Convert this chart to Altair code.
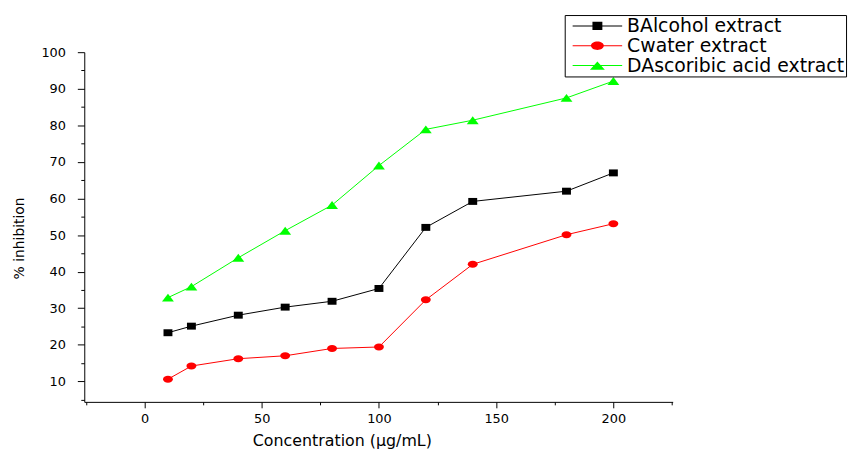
import altair as alt
import pandas as pd

# ---- data ----
conc = [10, 20, 40, 60, 80, 100, 120, 140, 180, 200]
alcohol = [23.3, 25.1, 28.1, 30.3, 31.9, 35.4, 52.1, 59.2, 62.0, 67.0]
water = [10.6, 14.2, 16.2, 17.0, 19.0, 19.4, 32.3, 42.0, 50.1, 53.1]
ascorbic = [32.9, 35.9, 43.8, 51.2, 58.2, 69.0, 78.9, 81.4, 87.5, 92.1]

series_names = ["BAlcohol extract", "Cwater extract", "DAscoribic acid extract"]
series_colors = ["#000000", "#FF0000", "#00FF00"]

x_ticks = [-25, 0, 25, 50, 75, 100, 125, 150, 175, 200, 225]
y_ticks = [5, 10, 15, 20, 25, 30, 35, 40, 45, 50, 55, 60, 65, 70, 75, 80, 85, 90, 95, 100]

rows = []
for name, vals in zip(series_names, [alcohol, water, ascorbic]):
    for c, v in zip(conc, vals):
        rows.append({"conc": c, "inh": v, "series": name})
df = pd.DataFrame(rows)

# marker shapes (plot) - slightly flattened like the reference
plot_shapes = [
    "M-0.9,-0.7H0.9V0.7H-0.9Z",
    "M-1,0A1,0.7 0 1,1 1,0A1,0.7 0 1,1 -1,0Z",
    "M0,-0.8L1.2,0.8L-1.2,0.8Z",
]
# legend shapes: line + marker
seg = "M-2.5,-0.05H2.5V0.05H-2.5Z "
legend_shapes = [
    seg + "M-0.5,-0.42H0.5V0.42H-0.5Z",
    seg + "M-0.65,0A0.65,0.42 0 1,1 0.65,0A0.65,0.42 0 1,1 -0.65,0Z",
    seg + "M0,-0.42L0.75,0.42L-0.75,0.42Z",
]

FONT = "DejaVu Sans"

xscale = alt.Scale(domain=[-25.7, 225.3], nice=False, zero=False)
yscale = alt.Scale(domain=[4.4, 100], nice=False, zero=False)

xaxis = alt.Axis(
    values=x_ticks,
    tickCount=40,
    labelExpr="(datum.value % 50 === 0 && datum.value >= 0 && datum.value <= 200) ? datum.label : ''",
    tickSize={"condition": {"test": "datum.value % 50 === 0", "value": 6}, "value": 3},
    labelPadding=5,
    grid=False,
    domainColor="black",
    tickColor="black",
    labelColor="black",
    labelFont=FONT,
    labelFontSize=13,
    title="Concentration (µg/mL)",
    titleFont=FONT,
    titleFontSize=16,
    titleFontWeight="normal",
    titleColor="black",
    titleX=260,
    titleY=44,
    titleBaseline="alphabetic",
    titleAnchor="middle",
    labelFlush=False,
    labelOverlap=False,
)
yaxis = alt.Axis(
    values=y_ticks,
    tickCount=40,
    labelExpr="(datum.value % 10 === 0) ? datum.label : ''",
    tickSize={"condition": {"test": "datum.value % 10 === 0", "value": 7}, "value": 3.5},
    labelPadding=12,
    grid=False,
    domainColor="black",
    tickColor="black",
    labelColor="black",
    labelFont=FONT,
    labelFontSize=13,
    title="% inhibition",
    titleFont=FONT,
    titleFontSize=14,
    titleFontWeight="normal",
    titleColor="black",
    titleAngle=-90,
    titleX=-61,
    titleY=187.5,
    titleBaseline="alphabetic",
    titleAlign="center",
    labelFlush=False,
    labelOverlap=False,
)

base = alt.Chart(df)

layers = []
for i, (name, col, shp) in enumerate(zip(series_names, series_colors, plot_shapes)):
    sub = base.transform_filter(alt.datum.series == name)
    if i == 0:
        enc = dict(x=alt.X("conc:Q", scale=xscale, axis=xaxis),
                   y=alt.Y("inh:Q", scale=yscale, axis=yaxis))
    else:
        enc = dict(x=alt.X("conc:Q", scale=xscale),
                   y=alt.Y("inh:Q", scale=yscale))
    layers.append(sub.mark_line(strokeWidth=1, color=col).encode(**enc))
for name, col, shp in zip(series_names, series_colors, plot_shapes):
    sub = base.transform_filter(alt.datum.series == name)
    layers.append(
        sub.mark_point(filled=True, shape=shp, size=100, opacity=1, color=col).encode(
            x=alt.X("conc:Q", scale=xscale),
            y=alt.Y("inh:Q", scale=yscale),
        )
    )

legend_props = dict(
    title=None,
    orient="none",
    legendX=485,
    legendY=-37.5,
    strokeColor="black",
    fillColor="white",
    padding=1,
    symbolSize=400,
    symbolStrokeWidth=0,
    symbolOffset=22,
    labelOffset=20,
    labelFont=FONT,
    labelFontSize=19,
    labelColor="black",
    labelLimit=400,
    rowPadding=0,
)

legend_layer = base.transform_filter("false").mark_point(filled=True, size=400, opacity=1).encode(
    x=alt.X("conc:Q", scale=xscale),
    y=alt.Y("inh:Q", scale=yscale),
    fill=alt.Fill("series:N", scale=alt.Scale(domain=series_names, range=series_colors),
                  legend=alt.Legend(**legend_props)),
    shape=alt.Shape(
        "series:N",
        scale=alt.Scale(domain=series_names, range=legend_shapes),
        legend=alt.Legend(**legend_props),
    ),
)
layers.append(legend_layer)

chart = alt.layer(*layers).properties(
    width=594,
    height=353,
    autosize=alt.AutoSizeParams(type="none"),
    padding={"left": 77, "top": 42.5, "right": 179, "bottom": 48},
    background="white",
).configure_view(stroke=None)

chart.save("out.html", embed_options={"renderer": "svg", "actions": False})
